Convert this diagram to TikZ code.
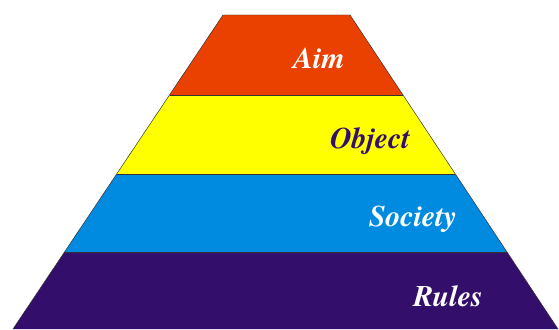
\documentclass[tikz,border=0pt]{standalone}
\usepackage{fontspec}
\newfontfamily\pyrfont{texgyretermes-bolditalic.otf}
\definecolor{aimred}{HTML}{EA4100}
\definecolor{objyellow}{HTML}{FFFF00}
\definecolor{socblue}{HTML}{008BE0}
\definecolor{rulepurple}{HTML}{330E6B}
\tikzset{
  band/.style={draw=black!80, line width=0.5pt},
  lbl/.style={font=\pyrfont\fontsize{30}{30}\selectfont, anchor=base}
}
\begin{document}
\begin{tikzpicture}[x=1bp,y=1bp]
\useasboundingbox (0,0) rectangle (559,329);
% bands, bottom to top
\fill[rulepurple] (13,0) -- (64.5,77) -- (507,77) -- (558,0) -- cycle;
\fill[socblue] (64.5,77) -- (116.7,155) -- (455.3,155) -- (507,77) -- cycle;
\fill[objyellow] (116.7,155) -- (169.5,234) -- (403,234) -- (455.3,155) -- cycle;
\fill[aimred] (169.5,234) -- (223,314) -- (350,314) -- (403,234) -- cycle;
\draw[band] (13,0) -- (223,314) -- (350,314) -- (558,0);
\draw[band] (64.5,77) -- (507,77);
\draw[band] (116.7,155) -- (455.3,155);
\draw[band] (169.5,234) -- (403,234);

\node[lbl, text=white] (aim) at (319,261) {Aim};
\node[lbl, text=rulepurple] (object) at (370,181) {Object};
\node[lbl, text=white] (society) at (413,103) {Society};
\node[lbl, text=white] (rules) at (448,23) {Rules};
\end{tikzpicture}
\end{document}
